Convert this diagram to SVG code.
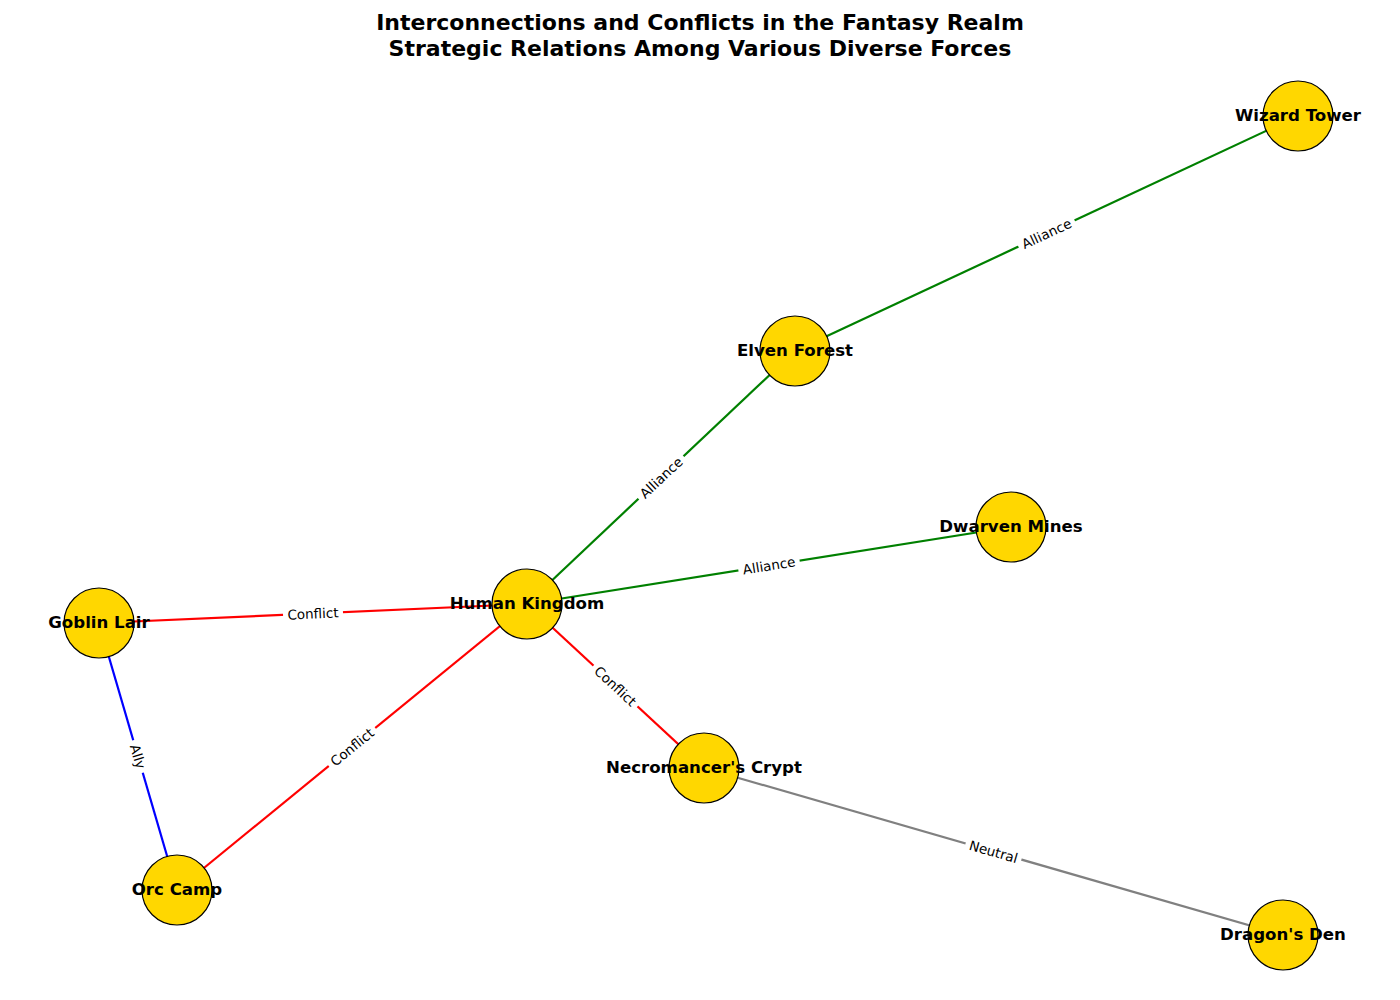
<svg xmlns="http://www.w3.org/2000/svg" width="1400" height="1000" viewBox="0 0 1400 1000">
<style>
.edge{stroke-width:2.2;fill:none}
.alliance{stroke:#008000}
.conflict{stroke:#FF0000}
.ally{stroke:#0000FF}
.neutral{stroke:#808080}
.node circle{fill:#FFD700;stroke:#000;stroke-width:1.2}
.node text{font-family:"DejaVu Sans",sans-serif;font-weight:bold;font-size:16.6px;text-anchor:middle;dominant-baseline:central;fill:#000}
.lbl rect{fill:#fff;stroke:none}
.lbl text{font-family:"DejaVu Sans",sans-serif;font-size:13.5px;text-anchor:middle;dominant-baseline:central;fill:#000}
.title{font-family:"DejaVu Sans",sans-serif;font-weight:bold;font-size:22px;text-anchor:middle;fill:#000}
</style>
<rect width="1400" height="1000" fill="#fff"/>
<text class="title" x="700" y="30">Interconnections and Conflicts in the Fantasy Realm</text>
<text class="title" x="700" y="56">Strategic Relations Among Various Diverse Forces</text>
<g id="connectors">
<line class="edge alliance" x1="795" y1="351" x2="1298" y2="116"/>
<line class="edge alliance" x1="527" y1="604" x2="795" y2="351"/>
<line class="edge alliance" x1="527" y1="604" x2="1011" y2="527"/>
<line class="edge conflict" x1="99" y1="623" x2="527" y2="604"/>
<line class="edge ally" x1="99" y1="623" x2="177" y2="890"/>
<line class="edge conflict" x1="177" y1="890" x2="527" y2="604"/>
<line class="edge conflict" x1="527" y1="604" x2="704" y2="768"/>
<line class="edge neutral" x1="704" y1="768" x2="1283" y2="935"/>
<g class="lbl" transform="translate(1046.5,233.5) rotate(-25)"><rect x="-31" y="-9" width="62" height="18"/><text>Alliance</text></g>
<g class="lbl" transform="translate(661,477.5) rotate(-43.35)"><rect x="-31" y="-9" width="62" height="18"/><text>Alliance</text></g>
<g class="lbl" transform="translate(769,565.5) rotate(-9.04)"><rect x="-31" y="-9" width="62" height="18"/><text>Alliance</text></g>
<g class="lbl" transform="translate(313,613.5) rotate(-2.54)"><rect x="-30" y="-9" width="60" height="18"/><text>Conflict</text></g>
<g class="lbl" transform="translate(138,756.5) rotate(73.7)"><rect x="-17" y="-9" width="34" height="18"/><text>Ally</text></g>
<g class="lbl" transform="translate(352,747) rotate(-39.25)"><rect x="-30" y="-9" width="60" height="18"/><text>Conflict</text></g>
<g class="lbl" transform="translate(615.5,686) rotate(42.8)"><rect x="-30" y="-9" width="60" height="18"/><text>Conflict</text></g>
<g class="lbl" transform="translate(993.5,851.5) rotate(16.1)"><rect x="-29" y="-9" width="58" height="18"/><text>Neutral</text></g>
</g>
<g id="node-wizard-tower" class="node"><circle cx="1298" cy="116" r="35"/><text x="1298" y="115">Wizard Tower</text></g>
<g id="node-elven-forest" class="node"><circle cx="795" cy="351" r="35"/><text x="795" y="350">Elven Forest</text></g>
<g id="node-dwarven-mines" class="node"><circle cx="1011" cy="527" r="35"/><text x="1011" y="526">Dwarven Mines</text></g>
<g id="node-human-kingdom" class="node"><circle cx="527" cy="604" r="35"/><text x="527" y="603">Human Kingdom</text></g>
<g id="node-goblin-lair" class="node"><circle cx="99" cy="623" r="35"/><text x="99" y="622">Goblin Lair</text></g>
<g id="node-necromancers-crypt" class="node"><circle cx="704" cy="768" r="35"/><text x="704" y="767">Necromancer's Crypt</text></g>
<g id="node-orc-camp" class="node"><circle cx="177" cy="890" r="35"/><text x="177" y="889">Orc Camp</text></g>
<g id="node-dragons-den" class="node"><circle cx="1283" cy="935" r="35"/><text x="1283" y="934">Dragon's Den</text></g>
</svg>
